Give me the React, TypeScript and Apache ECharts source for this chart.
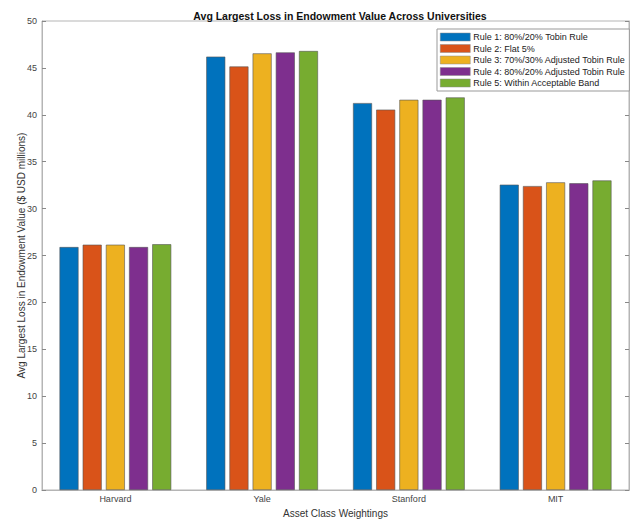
import React, { useEffect, useRef } from "react";
import * as echarts from "echarts";

const categories = ["Harvard", "Yale", "Stanford", "MIT"];
const seriesNames = [
  "Rule 1: 80%/20% Tobin Rule",
  "Rule 2: Flat 5%",
  "Rule 3: 70%/30% Adjusted Tobin Rule",
  "Rule 4: 80%/20% Adjusted Tobin Rule",
  "Rule 5: Within Acceptable Band",
];
const rule1 = [25.9, 46.2, 41.25, 32.55];
const rule2 = [26.15, 45.15, 40.55, 32.4];
const rule3 = [26.15, 46.55, 41.6, 32.8];
const rule4 = [25.9, 46.65, 41.6, 32.7];
const rule5 = [26.2, 46.8, 41.85, 33.0];
const seriesValues = [rule1, rule2, rule3, rule4, rule5];
const colors = ["#0072BD", "#D95319", "#EDB120", "#7E2F8E", "#77AC30"];

const FONT = "Liberation Sans, Arial, Helvetica, sans-serif";

export default function App() {
  const ref = useRef<HTMLDivElement>(null);
  useEffect(() => {
    if (!ref.current) return;
    const chart = echarts.init(ref.current, undefined, { renderer: "svg" });
    const lineColor = "#b5b5b5";
    const textColor = "#444";
    chart.setOption({
      animation: false,
      backgroundColor: "#fff",
      textStyle: { fontFamily: FONT },
      title: {
        text: "Avg Largest Loss in Endowment Value Across Universities",
        left: 335,
        textAlign: "center",
        top: 5,
        textStyle: { fontSize: 10.5, fontWeight: "bold", color: "#111", fontFamily: FONT },
      },
      legend: {
        orient: "vertical",
        left: 437,
        top: 29,
        itemWidth: 30,
        itemHeight: 8,
        itemGap: 1.5,
        padding: [3, 4, 3, 3],
        borderColor: "#999",
        borderWidth: 1,
        backgroundColor: "#fff",
        icon: "rect",
        itemStyle: { borderColor: "#888", borderWidth: 0.5 },
        textStyle: { fontSize: 9, lineHeight: 10, color: "#222", fontFamily: FONT, padding: [0, 0, 0, -2] },
        data: seriesNames,
      },
      grid: { left: 42, right: 3, top: 21, bottom: 31, show: true, borderColor: lineColor, borderWidth: 1 },
      xAxis: [
        {
          type: "category",
          data: categories,
          name: "Asset Class Weightings",
          nameLocation: "middle",
          nameGap: 18,
          nameTextStyle: { fontSize: 10, color: "#333" },
          axisLine: { lineStyle: { color: lineColor } },
          axisTick: { inside: true, alignWithLabel: true, length: 4, lineStyle: { color: "#888" } },
          axisLabel: { fontSize: 9, color: textColor, margin: 4 },
        },
        {
          type: "category",
          data: categories,
          position: "top",
          axisLine: { lineStyle: { color: lineColor } },
          axisTick: { inside: true, alignWithLabel: true, length: 4, lineStyle: { color: "#888" } },
          axisLabel: { show: false },
        },
      ],
      yAxis: [
        {
          type: "value",
          min: 0,
          max: 50,
          interval: 5,
          name: "Avg Largest Loss in Endowment Value ($ USD millions)",
          nameLocation: "middle",
          nameGap: 16,
          nameMoveOverlap: false,
          nameTextStyle: { fontSize: 10, color: "#333" },
          axisLine: { show: true, lineStyle: { color: lineColor } },
          axisTick: { show: true, inside: true, length: 4, lineStyle: { color: "#888" } },
          axisLabel: { fontSize: 9, color: textColor, margin: 5 },
          splitLine: { show: false },
        },
        {
          type: "value",
          min: 0,
          max: 50,
          interval: 5,
          position: "right",
          axisLine: { show: true, lineStyle: { color: lineColor } },
          axisTick: { show: true, inside: true, length: 4, lineStyle: { color: "#888" } },
          axisLabel: { show: false },
          splitLine: { show: false },
        },
      ],
      series: seriesNames.map((name, i) => ({
        name,
        type: "bar",
        data: seriesValues[i],
        barWidth: 19,
        barGap: "22%",
        itemStyle: { color: colors[i], borderColor: "#555", borderWidth: 0.6 },
      })),
    });
    return () => chart.dispose();
  }, []);
  return (
    <div
      ref={ref}
      style={{ position: "fixed", left: 0, top: 0, width: 632, height: 523 }}
    />
  );
}
